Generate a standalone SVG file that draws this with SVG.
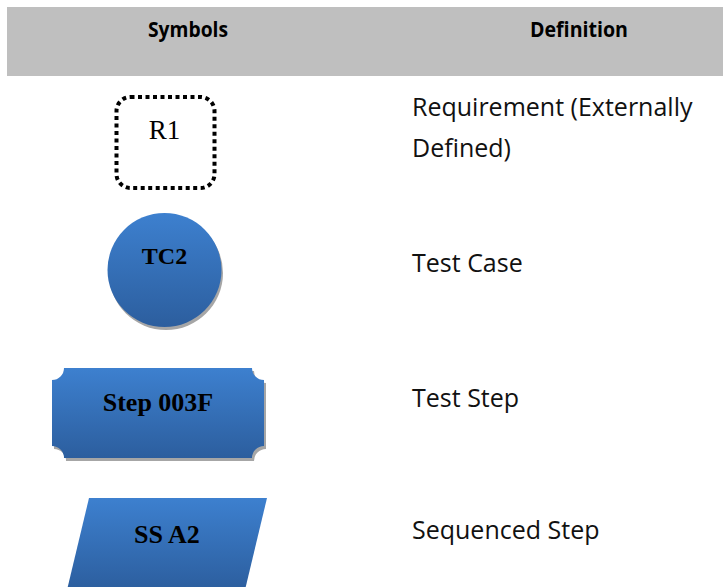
<svg xmlns="http://www.w3.org/2000/svg" width="723" height="587" viewBox="0 0 723 587">
<style>
.hdr{font-family:"Open Sans","Noto Sans",sans-serif;font-weight:bold;font-size:22px;fill:#000}
.def{font-family:"Open Sans","Noto Sans",sans-serif;font-size:25px;fill:#111}
.lbl{font-family:"Liberation Serif","Times New Roman",serif;font-weight:bold;fill:#000;text-anchor:middle}
.shade{fill:#a6a6a6}
</style>
<defs>
<linearGradient id="blue" x1="0" y1="0" x2="0" y2="1">
<stop offset="0" stop-color="#3d80cf"/>
<stop offset="1" stop-color="#2c5e9e"/>
</linearGradient>
</defs>
<rect x="0" y="0" width="723" height="587" fill="#fff"/>
<g id="header">
<rect x="7" y="7" width="716" height="69" fill="#bfbfbf"/>
<text class="hdr" x="148" y="37" textLength="80" lengthAdjust="spacingAndGlyphs">Symbols</text>
<text class="hdr" x="530" y="37" textLength="98" lengthAdjust="spacingAndGlyphs">Definition</text>
</g>
<g id="r1">
<rect x="116.5" y="97" width="98" height="91" rx="14" ry="14" fill="none" stroke="#000" stroke-width="4" stroke-dasharray="4 3.5"/>
<text x="164.5" y="139" font-family="Liberation Serif, serif" font-size="27" text-anchor="middle" fill="#000">R1</text>
</g>
<g id="tc2">
<circle cx="166" cy="273" r="57" class="shade"/>
<circle cx="164.5" cy="270" r="57" fill="url(#blue)"/>
<text class="lbl" x="164.5" y="264" font-size="24">TC2</text>
</g>
<g id="step">
<path class="shade" d="M66,371 H254 A12,12 0 0 0 266,383 V449 A12,12 0 0 0 254,461 H66 A12,12 0 0 0 54,449 V383 A12,12 0 0 0 66,371 Z"/>
<path fill="url(#blue)" d="M64,368 H252 A12,12 0 0 0 264,380 V446 A12,12 0 0 0 252,458 H64 A12,12 0 0 0 52,446 V380 A12,12 0 0 0 64,368 Z"/>
<text class="lbl" x="158" y="411" font-size="26">Step 003F</text>
</g>
<g id="ss">
<path fill="url(#blue)" d="M89,498 H267 L245,590 H67 Z"/>
<text class="lbl" x="167" y="543" font-size="26">SS A2</text>
</g>
<g id="defs">
<text class="def" x="412" y="116">Requirement (Externally</text>
<text class="def" x="412" y="157">Defined)</text>
<text class="def" x="412" y="272">Test Case</text>
<text class="def" x="412" y="407">Test Step</text>
<text class="def" x="412" y="539">Sequenced Step</text>
</g>
<g id="connectors"></g>
</svg>
